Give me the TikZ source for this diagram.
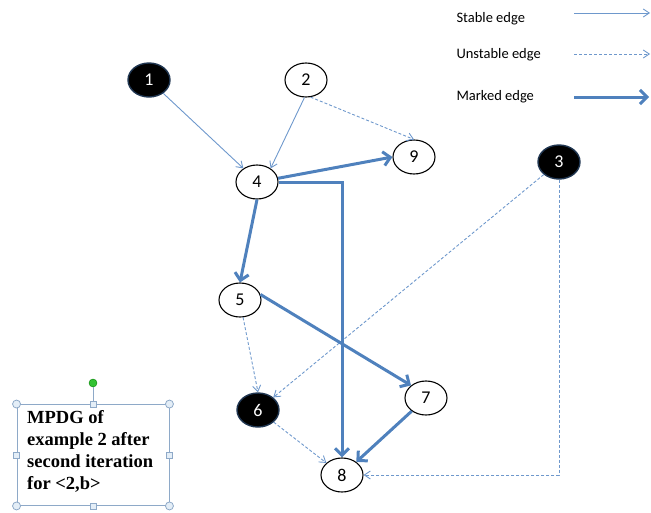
\documentclass[tikz,border=0pt]{standalone}
\usepackage{fontspec}
\setmainfont{Carlito}
\newfontfamily\boxfont{Liberation Serif}
\usetikzlibrary{shapes.geometric,arrows.meta}
\definecolor{edgeblue}{HTML}{4F81BD}
\definecolor{thinblue}{HTML}{6E98CC}
\definecolor{glowblue}{HTML}{1F3550}
\definecolor{handleblue}{HTML}{8EA9C8}
\definecolor{handlefill}{HTML}{E4EEF7}
\begin{document}
\begin{tikzpicture}[x=1pt,y=-1pt,
  vert/.style={ellipse,draw=black,line width=1.1pt,fill=white,minimum width=42pt,minimum height=34pt,inner sep=0pt,font=\fontsize{18}{18}\selectfont},
  blackvert/.style={vert,fill=black,draw=glowblue,line width=1.4pt,text=white},
  stable/.style={draw=thinblue,line width=0.9pt,-{Straight Barb[length=6pt,width=8pt]}},
  unstable/.style={stable,dashed,dash pattern=on 3pt off 2pt},
  marked/.style={draw=edgeblue,line width=3pt,-{Straight Barb[length=7pt,width=14pt,line width=3pt]}},
  legendtext/.style={anchor=west,font=\fontsize{14.5}{14.5}\selectfont},
  handle/.style={circle,draw=handleblue,fill=handlefill,line width=0.8pt,minimum size=8pt,inner sep=0pt},
  sqhandle/.style={rectangle,draw=handleblue,fill=handlefill,line width=0.8pt,minimum size=6pt,inner sep=0pt}]
\useasboundingbox (0,0) rectangle (651,512);

% vertices
\node[blackvert] (n1) at (149,80) {1};
\node[vert] (n2) at (306,80) {2};
\node[blackvert] (n3) at (559,162) {3};
\node[vert] (n4) at (257,182) {4};
\node[vert] (n9) at (414,157) {9};
\node[vert] (n5) at (240,300) {5};
\node[blackvert] (n6) at (258,410) {6};
\node[vert] (n7) at (426,398) {7};
\node[vert] (n8) at (342,475) {8};

% stable and unstable edges
\draw[stable] (n1) -- (n4.135);
\draw[stable] (n2.265) -- (n4.45);
\draw[unstable] (n2.-75) -- (n9.north);
\draw[unstable] (n5.-80) -- (n6.north);
\draw[unstable] (n3) -- (n6);
\draw[unstable] (n6) -- (n8);
\draw[unstable] (n3.south) |- (n8.east);

% marked edges
\draw[marked] (n4.10) -- (n9.west);
\draw[marked] (n4.east) -| (n8.north);
\draw[marked] (n4.south) -- (n5.north);
\draw[marked] (n5.15) -- (n7.140);
\draw[marked] (n7) -- (n8);

% legend
\node[legendtext] (l1) at (453,19) {Stable edge};
\node[legendtext] (l2) at (453,55) {Unstable edge};
\node[legendtext] (l3) at (453,97) {Marked edge};
\coordinate (a1s) at (574,13);
\coordinate (a1e) at (650,13);
\coordinate (a2s) at (574,54);
\coordinate (a2e) at (650,54);
\coordinate (a3s) at (574,97);
\coordinate (a3e) at (649,97);
\draw[stable] (a1s) -- (a1e);
\draw[unstable] (a2s) -- (a2e);
\draw[marked] (a3s) -- (a3e);

% caption text box with selection handles
\node[draw=handleblue,line width=0.9pt,minimum width=152pt,minimum height=101pt,inner sep=0pt] (cap) at (93,455) {};
\node[anchor=north west,align=left,inner sep=0pt,font=\boxfont\bfseries\fontsize{18.5}{22}\selectfont] (captext) at (27,410) {MPDG of\\example 2 after\\second iteration\\for {<}2,b{>}};
\node[circle,fill=green!70!black!80!white,draw=green!50!black,minimum size=8pt,inner sep=0pt] (rot) at (93,383) {};
\draw[handleblue,line width=0.8pt] (rot) -- (cap.north);
\foreach \a in {north west,north east,south west,south east}
  \node[handle] at (cap.\a) {};
\foreach \a in {north,south,east,west}
  \node[sqhandle] at (cap.\a) {};
\end{tikzpicture}
\end{document}
